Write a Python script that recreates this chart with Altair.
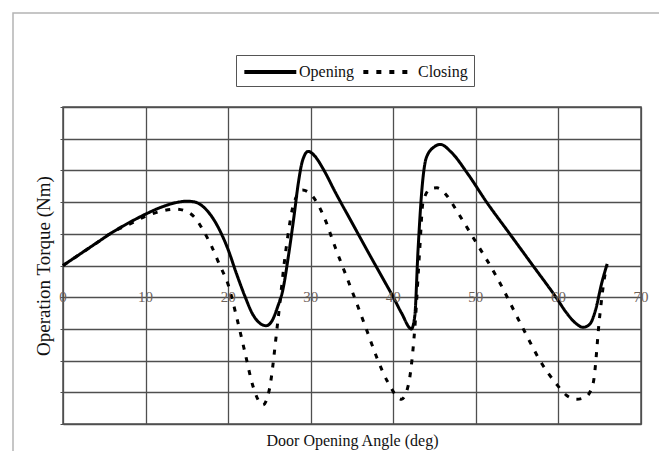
import altair as alt
import pandas as pd

# ---- data ----
open_x = [0, 2, 4, 6, 8, 10, 12, 14, 15, 16, 17, 18, 19, 20, 21, 22, 23, 24, 24.6, 25.3, 26, 26.6,
          27.3, 28, 28.5, 29, 29.7, 30.5, 31.5, 33, 35, 37, 39, 40, 41, 42.2, 42.6, 43.0, 43.5, 44,
          45, 45.7, 47, 49, 51.3, 54.1, 56.9, 59.7, 61, 62, 63, 63.8, 64.5, 65.2, 65.9]
open_y = [1.0, 1.35, 1.7, 2.05, 2.35, 2.62, 2.85, 3.0, 3.03, 3.0, 2.85, 2.55, 2.1, 1.5, 0.75, 0.05,
          -0.55, -0.85, -0.9, -0.75, -0.3, 0.2, 1.3, 2.6, 3.6, 4.3, 4.6, 4.45, 4.05, 3.3, 2.35, 1.4,
          0.47, 0.0, -0.5, -1.0, -0.6, 1.5, 3.5, 4.4, 4.75, 4.82, 4.58, 3.9, 3.0, 2.0, 1.0, 0.0,
          -0.5, -0.8, -0.95, -0.85, -0.4, 0.4, 1.05]

close_x = [0, 2, 4, 6, 8, 10, 12, 13.7, 15, 16, 17, 18, 19, 20, 21, 22, 23, 24.2, 25, 26, 27, 28,
           29, 30, 31.5, 33, 35, 36.7, 38, 39.3, 41, 41.8, 42.6, 43.2, 43.6, 44.5, 45.3, 46.5, 47.6,
           49.6, 52.5, 55.7, 58, 59.7, 61, 62.2, 63.3, 64.2, 65.0, 65.6, 65.9]
close_y = [1.0, 1.35, 1.7, 2.05, 2.3, 2.55, 2.72, 2.78, 2.7, 2.5, 2.1, 1.6, 1.0, 0.4, -0.6, -1.7,
           -2.8, -3.4, -2.9, -0.8, 1.5, 3.0, 3.38, 3.25, 2.6, 1.55, 0.2, -0.98, -1.9, -2.66, -3.22,
           -2.8, -1.0, 1.5, 3.0, 3.42, 3.45, 3.2, 2.76, 1.91, 0.65, -0.98, -2.1, -2.72, -3.1, -3.22,
           -3.15, -2.72, -0.6, 0.65, 1.0]

series_names = ["Opening", "Closing"]
x_ticks = [0, 10, 20, 30, 40, 50, 60, 70]
y_ticks = [-4, -3, -2, -1, 0, 1, 2, 3, 4, 5, 6]

rows = []
for xv, yv in zip(open_x, open_y):
    rows.append({"angle": xv, "torque": yv, "series": series_names[0]})
for xv, yv in zip(close_x, close_y):
    rows.append({"angle": xv, "torque": yv, "series": series_names[1]})
df = pd.DataFrame(rows)
ticks_df = pd.DataFrame({"angle": x_ticks, "torque": [0] * len(x_ticks)})

FONT = "Liberation Serif"
GRID = "#4f4f4f"

xscale = alt.Scale(domain=[0, 70], nice=False, zero=False)
yscale = alt.Scale(domain=[-4, 6], nice=False, zero=False)

x_axis = alt.Axis(values=x_ticks, grid=True, labels=False, ticks=False, domain=False,
                  title="Door Opening Angle (deg)", titleFont=FONT, titleFontSize=16,
                  titleFontWeight="normal", titleColor="#111", titlePadding=8)
y_axis = alt.Axis(values=y_ticks, grid=True, labels=False, ticks=True, tickSize=3,
                  tickColor=GRID, domain=False,
                  title="Operation Torque (Nm)", titleFont=FONT, titleFontSize=19,
                  titleFontWeight="normal", titleColor="#111", titlePadding=6)

lines = alt.Chart(df).mark_line(strokeWidth=3, color="black", interpolate="monotone",
                                strokeCap="butt").encode(
    x=alt.X("angle:Q", scale=xscale, axis=x_axis),
    y=alt.Y("torque:Q", scale=yscale, axis=y_axis),
    strokeDash=alt.StrokeDash("series:N",
                              scale=alt.Scale(domain=series_names, range=[[1, 0], [5, 8]]),
                              legend=alt.Legend(title=None, orient="none", legendX=173, legendY=-52,
                                                direction="horizontal",
                                                symbolType="M-1,0H5",
                                                symbolSize=300, symbolStrokeWidth=4,
                                                symbolStrokeColor="black", labelFont=FONT,
                                                labelFontSize=16, labelColor="#111",
                                                labelOffset=35, columnPadding=0,
                                                strokeColor="#555", padding=6)),
    order=alt.Order("angle:Q"),
)

labels = alt.Chart(ticks_df).mark_text(font=FONT, fontSize=15, color="#6e6259",
                                        baseline="middle", align="center").encode(
    x=alt.X("angle:Q", scale=xscale, axis=x_axis),
    y=alt.Y("torque:Q", scale=yscale, axis=y_axis),
    text=alt.Text("angle:Q"),
)

frame = alt.Chart(alt.Data(values=[{}])).mark_rect(fill=None, stroke="#b4b4b4",
                                                    strokeWidth=1.5).encode(
    x=alt.value(-50), x2=alt.value(602), y=alt.value(-94), y2=alt.value(420),
)

chart = alt.layer(frame, lines, labels).properties(
    width=578, height=317,
    autosize=alt.AutoSizeParams(type="none"),
    padding={"left": 55, "top": 99, "right": 18, "bottom": 27},
    background="white",
).configure_view(stroke=GRID, strokeWidth=1.5).configure_axis(
    gridColor=GRID, gridWidth=1.3, gridOpacity=1
)

chart.save("out.html", embed_options={"renderer": "svg", "actions": False})
